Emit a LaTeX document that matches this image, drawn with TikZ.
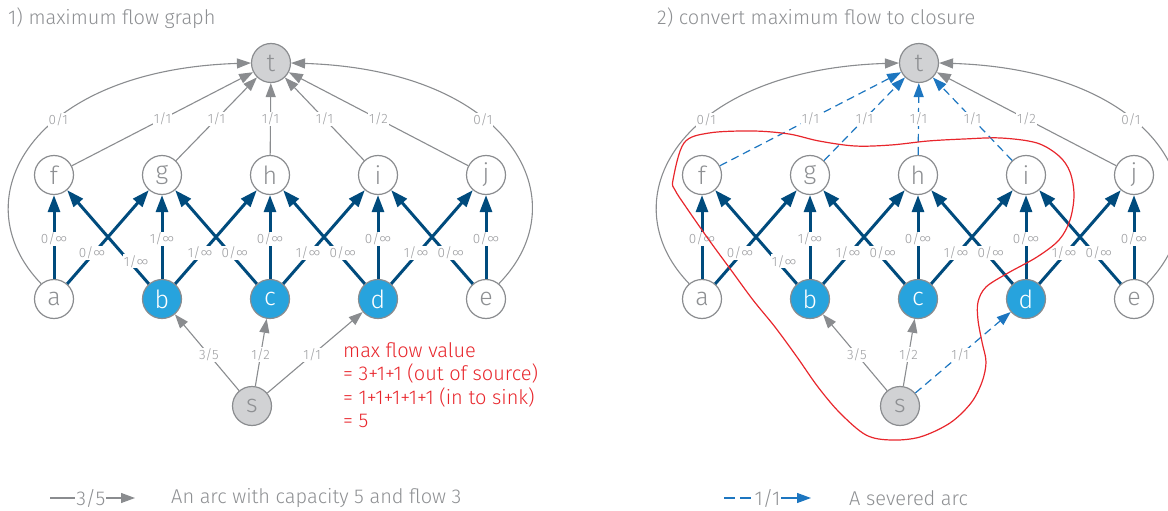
\documentclass[tikz,border=0pt]{standalone}
\usepackage{fontspec}
\IfFontExistsTF{Fira Sans Light}{\setmainfont{Fira Sans Light}}{\setmainfont{Fira Sans}}
\usetikzlibrary{arrows.meta}
\definecolor{lgray}{HTML}{8A8C8F}
\definecolor{ndgray}{HTML}{8A8C8F}
\definecolor{txgray}{HTML}{8E9093}
\definecolor{lbgray}{HTML}{9C9DA0}
\definecolor{ltfill}{HTML}{D1D2D4}
\definecolor{nblue}{HTML}{27A3DD}
\definecolor{dblue}{HTML}{004B7D}
\definecolor{sblue}{HTML}{1D76C0}
\definecolor{redc}{HTML}{E8262C}
\tikzset{
  nd/.style={circle, draw=ndgray, line width=1.2pt, minimum size=39pt, inner sep=0pt,
    font=\fontsize{25}{25}\selectfont, text=txgray},
  ndw/.style={nd, fill=white},
  ndg/.style={nd, fill=ltfill},
  ndb/.style={nd, fill=nblue, text=white},
  arcg/.style={draw=lgray, line width=1.1pt, -{Triangle[length=14pt,width=10pt]}, fill=none},
  flow/.style={draw=dblue, line width=3pt, -{Triangle[length=17pt,width=12pt]}},
  sev/.style={draw=sblue, line width=1.2pt, dash pattern=on 8pt off 5pt, -{Triangle[length=14pt,width=10pt]}},
  lbl/.style={fill=white, inner sep=1pt, text=lbgray, font=\fontsize{13.5}{13.5}\selectfont},
  lr/.style={lbl, xshift=-2pt},
  ll/.style={lbl, xshift=5pt},
  lglbl/.style={lbl, font=\fontsize{20}{20}\selectfont, text=txgray},
  ttl/.style={anchor=west, text=txgray, font=\fontsize{20}{20}\selectfont, inner sep=0pt},
}
\newcommand\drawpanel[3]{%
\begin{scope}[xshift=#2]
  \node[ndg] (#1t) at (271,63) {t};
  \node[ndw] (#1f) at (54,175) {f};
  \node[ndw] (#1g) at (162,175) {g};
  \node[ndw] (#1h) at (270,175) {h};
  \node[ndw] (#1i) at (378,175) {i};
  \node[ndw] (#1j) at (486,175) {j};
  \node[ndw] (#1a) at (54,299) {a};
  \node[ndb] (#1b) at (162,299) {b};
  \node[ndb] (#1c) at (270,299) {c};
  \node[ndb] (#1d) at (378,299) {d};
  \node[ndw] (#1e) at (486,299) {e};
  \node[ndg] (#1s) at (252,406) {s};
  % arcs into t
  \draw[arcg] (#1a.130) .. controls (-40,200) and (30,70) .. (#1t.west) node[lbl,pos=.6]{0/1};
  \draw[arcg] (#1e.50) .. controls (581,200) and (511,70) .. (#1t.east) node[lbl,pos=.6]{0/1};
  \draw[#3] (#1f) -- (#1t) node[lbl,pos=.5]{1/1};
  \draw[#3] (#1g) -- (#1t) node[lbl,pos=.5]{1/1};
  \draw[#3] (#1h) -- (#1t) node[lbl,pos=.5]{1/1};
  \draw[#3] (#1i) -- (#1t) node[lbl,pos=.5]{1/1};
  \draw[arcg] (#1j) -- (#1t) node[lbl,pos=.5]{1/2};
  % flow arcs
  \draw[flow] (#1a) -- (#1f) node[lbl,pos=.48]{0/∞};
  \draw[flow] (#1a) -- (#1g) node[lr,pos=.33]{0/∞};
  \draw[flow] (#1b) -- (#1f) node[lbl,pos=.24,xshift=7pt]{1/∞};
  \draw[flow] (#1b) -- (#1g) node[lbl,pos=.48]{1/∞};
  \draw[flow] (#1b) -- (#1h) node[lr,pos=.33]{1/∞};
  \draw[flow] (#1c) -- (#1g) node[ll,pos=.33]{0/∞};
  \draw[flow] (#1c) -- (#1h) node[lbl,pos=.48]{0/∞};
  \draw[flow] (#1c) -- (#1i) node[lr,pos=.33]{1/∞};
  \draw[flow] (#1d) -- (#1h) node[ll,pos=.33]{0/∞};
  \draw[flow] (#1d) -- (#1i) node[lbl,pos=.48]{0/∞};
  \draw[flow] (#1d) -- (#1j) node[lr,pos=.33]{1/∞};
  \draw[flow] (#1e) -- (#1i) node[ll,pos=.33]{0/∞};
  \draw[flow] (#1e) -- (#1j) node[lbl,pos=.48]{0/∞};
  % source arcs
  \draw[arcg] (#1s) -- (#1b) node[lbl,pos=.47]{3/5};
  \draw[arcg] (#1s) -- (#1c) node[lbl,pos=.47]{1/2};
  \draw[#3] (#1s) -- (#1d) node[lbl,pos=.47]{1/1};
\end{scope}}
\begin{document}
\begin{tikzpicture}[x=1pt,y=-1pt]
\useasboundingbox (0,0) rectangle (1168,511);
\node[ttl] (title1) at (8,18) {1) maximum flow graph};
\node[ttl] (title2) at (657,18) {2) convert maximum flow to closure};
\drawpanel{L}{0pt}{arcg}
\drawpanel{R}{648pt}{sev}
\node[anchor=north west, align=left, inner sep=0pt, text=redc,
  font=\fontsize{20}{23.5}\selectfont] (note) at (343,342)
  {max flow value\\= 3+1+1 (out of source)\\= 1+1+1+1+1 (in to sink)\\= 5};
% closure boundary
\draw[redc, line width=1.2pt] plot[smooth cycle, tension=0.55] coordinates {
 (673,180) (684,143) (709,133) (753,131) (789,134) (819,141) (855,146) (891,145)
 (928,141) (964,139) (1001,138) (1037,143) (1059,156) (1070,172) (1074,195)
 (1070,220) (1059,240) (1037,257) (1008,273) (986,287) (978,302) (978,320)
 (982,342) (986,362) (982,382) (971,403) (950,423) (920,437) (891,440)
 (866,435) (840,413) (818,387) (797,357) (775,327) (753,300) (731,270)
 (709,240) (686,207) (675,190)};
% legend
\coordinate (lg1) at (50,498);
\coordinate (lg2) at (135,498);
\draw[arcg] (lg1) -- (lg2) node[lglbl, pos=.48]{3/5};
\node[ttl] (lgt1) at (171,498) {An arc with capacity 5 and flow 3};
\coordinate (lg3) at (724,498);
\coordinate (lg4) at (811,498);
\draw[sev, dash pattern=on 11pt off 5pt on 11pt off 5pt on 70pt off 1pt] (lg3) -- (lg4) node[lglbl, pos=.5]{1/1};
\node[ttl] (lgt2) at (849,498) {A severed arc};
\end{tikzpicture}
\end{document}
